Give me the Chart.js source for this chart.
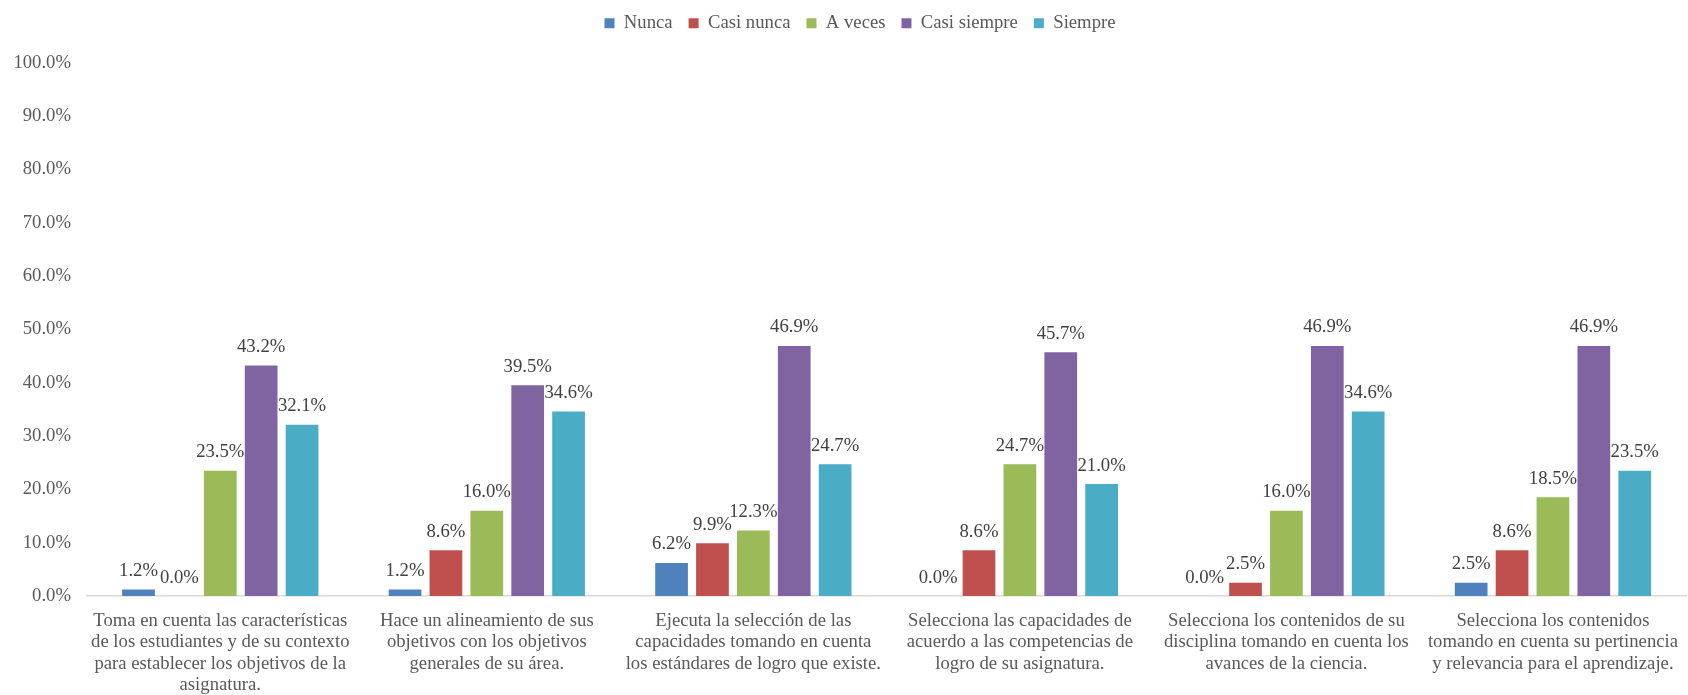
<!DOCTYPE html>
<html>
<head>
<meta charset="utf-8">
<script src="https://cdn.jsdelivr.net/npm/chart.js@4.4.0/dist/chart.umd.min.js"></script>
<style>
  html, body { margin: 0; padding: 0; background: #fff; overflow: hidden; }
  #wrap { position: relative; width: 1692px; height: 695px; }
</style>
</head>
<body>
<div id="wrap"><canvas id="chart"></canvas></div>
<script>
const categories = [
    ['Toma en cuenta las características', 'de los estudiantes y de su contexto', 'para establecer los objetivos de la', 'asignatura.'],
    ['Hace un alineamiento de sus', 'objetivos con los objetivos', 'generales de su área.'],
    ['Ejecuta la selección de las', 'capacidades tomando en cuenta', 'los estándares de logro que existe.'],
    ['Selecciona las capacidades de', 'acuerdo a las competencias de', 'logro de su asignatura.'],
    ['Selecciona los contenidos de su', 'disciplina tomando en cuenta los', 'avances de la ciencia.'],
    ['Selecciona los contenidos', 'tomando en cuenta su pertinencia', 'y relevancia para el aprendizaje.']
];

const seriesNames = ['Nunca', 'Casi nunca', 'A veces', 'Casi siempre', 'Siempre'];
const nunca       = [1.2, 1.2, 6.2, 0.0, 0.0, 2.5];
const casiNunca   = [0.0, 8.6, 9.9, 8.6, 2.5, 8.6];
const aVeces      = [23.5, 16.0, 12.3, 24.7, 16.0, 18.5];
const casiSiempre = [43.2, 39.5, 46.9, 45.7, 46.9, 46.9];
const siempre     = [32.1, 34.6, 24.7, 21.0, 34.6, 23.5];
const yTicks      = [0, 10, 20, 30, 40, 50, 60, 70, 80, 90, 100];

const colors = ['#4F81BD', '#C0504D', '#9BBB59', '#8064A2', '#4BACC6'];
const FONT = '"Liberation Serif", "Times New Roman", serif';

// value text above every bar
const valueLabels = {
    id: 'valueLabels',
    afterDatasetsDraw(chart) {
        const ctx = chart.ctx;
        ctx.save();
        ctx.font = '18.7px ' + FONT;
        ctx.fillStyle = '#404040';
        ctx.textAlign = 'center';
        ctx.textBaseline = 'alphabetic';
        chart.data.datasets.forEach((ds, i) => {
            chart.getDatasetMeta(i).data.forEach((bar, j) => {
                ctx.fillText(ds.data[j].toFixed(1) + '%', bar.x, bar.y - 13.5);
            });
        });
        ctx.restore();
    }
};

// extra room under the legend, and nudge it a little
const legendTweak = {
    id: 'legendTweak',
    beforeLayout(chart) {
        const lg = chart.legend;
        if (!lg || lg._tweaked) return;
        lg._tweaked = true;
        const fit = lg.fit, draw = lg.draw;
        lg.fit = function () { fit.call(this); this.height += 18; };
        lg.draw = function () {
            this.ctx.save();
            this.ctx.translate(14, -2);
            draw.call(this);
            this.ctx.restore();
        };
    }
};

new Chart(document.getElementById('chart'), {
    type: 'bar',
    data: {
        labels: categories,
        datasets: [nunca, casiNunca, aVeces, casiSiempre, siempre].map((d, i) => ({
            label: seriesNames[i],
            data: d,
            backgroundColor: colors[i],
            categoryPercentage: 0.767,
            barPercentage: 0.8
        }))
    },
    options: {
        responsive: true,
        maintainAspectRatio: false,
        animation: false,
        layout: { padding: 0 },
        plugins: {
            legend: {
                position: 'top',
                labels: {
                    boxWidth: 10,
                    boxHeight: 10,
                    padding: 16,
                    color: '#595959',
                    font: { family: FONT, size: 18.7 }
                }
            },
            tooltip: { enabled: false }
        },
        scales: {
            x: {
                grid: { display: false, drawTicks: false },
                border: { display: true, color: '#D9D9D9', width: 1.5 },
                ticks: {
                    color: '#595959',
                    font: { family: FONT, size: 18.7, lineHeight: 1.15 },
                    padding: 14,
                    maxRotation: 0,
                    autoSkip: false
                },
                afterFit(scale) { scale.height = 99; }
            },
            y: {
                min: 0,
                max: 100,
                afterBuildTicks(scale) { scale.ticks = yTicks.map(v => ({ value: v })); },
                grid: { display: false, drawTicks: false },
                border: { display: false },
                ticks: {
                    color: '#595959',
                    font: { family: FONT, size: 18.7 },
                    padding: 16,
                    callback: v => v.toFixed(1) + '%'
                },
                afterFit(scale) { scale.width = 87; }
            }
        }
    },
    plugins: [valueLabels, legendTweak]
});
</script>
</body>
</html>
